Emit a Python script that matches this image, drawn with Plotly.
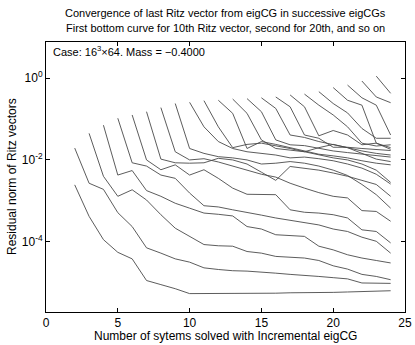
import plotly.graph_objects as go

# Residual norms (log10) of last Ritz vector, one curve per eigCG
start_system = [2, 2, 3, 4, 5, 6, 7, 8, 9, 10, 11, 12, 13, 14, 15, 16, 17, 18, 19, 20, 21, 22, 23]
last_system = 24

c01 = [-2.61, -3.38, -3.95, -4.26, -4.42, -4.95, -5.05, -5.15, -5.27, -5.27, -5.27, -5.27, -5.27,
       -5.26, -5.26, -5.25, -5.25, -5.24, -5.24, -5.23, -5.22, -5.21, -5.20]
c02 = [-1.71, -2.57, -2.72, -3.29, -3.63, -4.15, -4.28, -4.42, -4.50, -4.64, -4.68, -4.71, -4.72,
       -4.74, -4.77, -4.80, -4.82, -4.85, -4.88, -4.91, -5.01, -5.01, -5.02]
c03 = [-1.35, -2.40, -2.89, -2.73, -2.98, -3.34, -3.67, -3.87, -4.07, -4.10, -4.11, -4.24, -4.28,
       -4.36, -4.38, -4.40, -4.46, -4.59, -4.67, -4.80, -4.85, -4.93]
c04 = [-1.15, -2.37, -2.26, -2.75, -2.89, -3.06, -3.18, -3.30, -3.33, -3.37, -3.63, -3.69, -3.83,
       -3.85, -3.87, -4.11, -4.20, -4.32, -4.40, -4.46, -4.52]
c05 = [-0.98, -2.07, -2.15, -2.37, -2.45, -2.81, -3.12, -3.15, -3.22, -3.28, -3.35, -3.42, -3.48,
       -3.53, -3.59, -3.69, -3.75, -3.89, -3.99, -4.28]
c06 = [-0.90, -2.00, -2.24, -2.12, -2.37, -2.24, -2.45, -2.69, -2.84, -2.85, -2.85, -3.22, -3.28,
       -3.30, -3.34, -3.42, -3.71, -3.75, -4.03]
c07 = [-0.82, -1.98, -2.07, -2.08, -2.07, -1.96, -2.00, -2.10, -2.30, -2.50, -2.16, -2.20, -2.25,
       -2.32, -2.40, -2.50, -2.60, -2.89]
c08 = [-0.72, -1.80, -2.00, -1.97, -2.05, -2.15, -2.25, -2.35, -2.42, -2.57, -2.69, -2.80, -2.89,
       -2.93, -3.24, -3.26, -3.50]
c09 = [-0.62, -1.72, -1.84, -1.92, -1.95, -2.00, -2.10, -2.08, -2.04, -2.08, -2.15, -2.25, -2.38,
       -2.60, -2.85, -3.18]
c10 = [-0.59, -1.19, -1.55, -1.72, -1.80, -1.84, -1.88, -1.95, -1.93, -1.97, -2.02, -2.10, -2.20,
       -2.35, -2.59]
c11 = [-0.55, -1.19, -1.70, -1.62, -1.59, -1.65, -1.72, -1.80, -1.88, -1.95, -2.00, -2.10, -2.25, -2.55]
c12 = [-0.54, -0.86, -1.72, -1.55, -1.62, -1.70, -1.78, -1.86, -1.90, -1.95, -2.02, -2.08, -2.12]
c13 = [-0.51, -0.86, -1.51, -1.72, -1.76, -1.80, -1.70, -1.62, -1.70, -1.85, -1.98, -2.04]
c14 = [-0.50, -0.82, -1.51, -1.63, -1.65, -1.72, -1.78, -1.82, -1.86, -1.90, -1.93]
c15 = [-0.48, -0.74, -1.39, -1.45, -1.55, -1.62, -1.70, -1.78, -1.84, -1.88]
c16 = [-0.46, -0.70, -1.39, -1.47, -1.69, -1.69, -1.72, -1.75, -1.77]
c17 = [-0.41, -0.70, -1.41, -1.28, -1.39, -1.63, -1.59, -1.74]
c18 = [-0.39, -0.66, -0.90, -1.19, -1.59, -1.66, -1.63]
c19 = [-0.33, -0.62, -0.85, -1.23, -1.47, -1.47]
c20 = [-0.23, -0.54, -0.66, -1.59, -1.70]
c21 = [-0.17, -0.48, -0.66, -1.39]
c22 = [-0.07, -0.46, -0.60]
c23 = [0.05, -0.37]

curves = [c01, c02, c03, c04, c05, c06, c07, c08, c09, c10, c11, c12,
          c13, c14, c15, c16, c17, c18, c19, c20, c21, c22, c23]

x_tick_vals = [0, 5, 10, 15, 20, 25]
y_tick_vals = [1e-4, 1e-2, 1]
y_tick_text = ["10<sup>-4</sup>", "10<sup>-2</sup>", "10<sup>0</sup>"]

FONT = "Liberation Sans, Arial, Helvetica, sans-serif"

fig = go.Figure()
for s, vals in zip(start_system, curves):
    xs = list(range(s, last_system + 1))
    ys = [10 ** v for v in vals]
    fig.add_trace(go.Scatter(x=xs, y=ys, mode="lines",
                             line=dict(color="#4a4a4a", width=0.9),
                             showlegend=False, hoverinfo="skip"))

axis_common = dict(showline=True, linecolor="black", linewidth=1, mirror="ticks",
                   ticks="inside", ticklen=4, tickcolor="black", showgrid=False,
                   zeroline=False, automargin=False, ticklabeloverflow="allow",
                   tickfont=dict(family=FONT, size=12, color="black"))

fig.update_layout(
    width=415, height=345,
    margin=dict(l=46, r=10, t=42, b=33, autoexpand=False),
    paper_bgcolor="white", plot_bgcolor="white",
    font=dict(family=FONT, color="black"),
    xaxis=dict(range=[0, 25], tickvals=x_tick_vals, **axis_common),
    yaxis=dict(type="log", range=[-5.72, 0.885], tickvals=y_tick_vals, ticktext=y_tick_text,
               **axis_common),
    annotations=[
        dict(text="Convergence of last Ritz vector from eigCG in successive eigCGs",
             xref="paper", yref="paper", x=0.5, y=1, yshift=29, showarrow=False,
             font=dict(family=FONT, size=11), xanchor="center", yanchor="middle"),
        dict(text="First bottom curve for 10th Ritz vector, second for 20th, and so on",
             xref="paper", yref="paper", x=0.5, y=1, yshift=14, showarrow=False,
             font=dict(family=FONT, size=11), xanchor="center", yanchor="middle"),
        dict(text="Case: 16<sup>3</sup>×64. Mass = −0.4000",
             xref="paper", yref="paper", x=0, y=1, xshift=5, yshift=-9, showarrow=False,
             font=dict(family=FONT, size=11), xanchor="left", yanchor="middle"),
        dict(text="Number of sytems solved with Incremental eigCG",
             xref="paper", yref="paper", x=0.5, y=0, yshift=-24, showarrow=False,
             font=dict(family=FONT, size=12), xanchor="center", yanchor="middle"),
        dict(text="Residual norm of Ritz vectors", textangle=-90,
             xref="paper", yref="paper", x=0, y=0.5, xshift=-34, showarrow=False,
             font=dict(family=FONT, size=12), xanchor="center", yanchor="middle"),
    ],
)

fig.write_html("out.html", config={"displayModeBar": False, "staticPlot": True},
               post_script="document.body.style.margin='0';document.body.style.overflow='hidden';")
